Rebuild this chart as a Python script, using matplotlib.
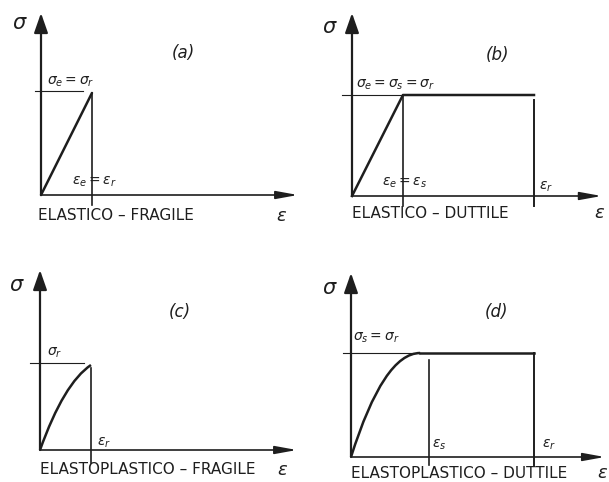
import numpy as np
import matplotlib.pyplot as plt
from matplotlib.path import Path
from matplotlib.patches import PathPatch

W, H = 609, 482
SX, SY = 52.0, 100.0   # pixels per unit of strain / stress
INK = '#1e1e1e'

# (a) elastico-fragile
eps_a = [0.0, 0.98]
sig_a = [0.0, 1.02]
# (b) elastico-duttile
eps_b = [0.0, 0.98, 3.50]
sig_b = [0.0, 1.01, 1.01]
# (c) elastoplastico-fragile, quadratic curve control points
eps_c = [0.0, 0.46, 0.98]
sig_c = [0.0, 0.67, 0.85]
# (d) elastoplastico-duttile, curve then plateau
eps_d = [0.0, 0.63, 1.33, 3.52]
sig_d = [0.0, 1.04, 1.04, 1.04]
eps_s_d = 1.50

titles = ['(a)', '(b)', '(c)', '(d)']
names = ['ELASTICO \u2013 FRAGILE', 'ELASTICO \u2013 DUTTILE',
         'ELASTOPLASTICO \u2013 FRAGILE', 'ELASTOPLASTICO \u2013 DUTTILE']

fig = plt.figure(figsize=(W / 100, H / 100), dpi=100)
fig.patch.set_facecolor('white')


def panel(ox, oy, xlen, ylen):
    ax = fig.add_axes([(ox - 45) / W, 1 - (oy + 30) / H, 310 / W, 225 / H])
    ax.set_xlim(-45 / SX, 265 / SX)
    ax.set_ylim(-30 / SY, 195 / SY)
    ax.axis('off')
    # axes with arrows
    ax.annotate('', xy=(0, ylen), xytext=(0, 0),
                arrowprops=dict(arrowstyle='-|>,head_length=1.0,head_width=0.35',
                                lw=1.6, color=INK, mutation_scale=12,
                                shrinkA=0, shrinkB=0))
    ax.annotate('', xy=(xlen, 0), xytext=(0, 0),
                arrowprops=dict(arrowstyle='-|>,head_length=1.1,head_width=0.2',
                                lw=1.2, color=INK, mutation_scale=12,
                                shrinkA=0, shrinkB=0))
    return ax


def txt(ax, x, y, s, size=9.5, ha='left', **kw):
    ax.text(x, y, s, fontsize=size, ha=ha, va='center', color=INK, **kw)


def common(ax, i, tx, ty, lx, ly, ex, ey, sx, sy):
    txt(ax, tx, ty, titles[i], size=12, ha='center', style='italic')
    txt(ax, lx, ly, names[i], size=11)
    txt(ax, ex, ey, r'$\epsilon$', size=13, ha='center')
    txt(ax, sx, sy, r'$\sigma$', size=15, ha='center')


# (a)
ax = panel(41, 195, 4.94, 1.82)
ax.plot(eps_a, sig_a, color=INK, lw=1.8, solid_capstyle='round')
ax.plot([-0.12, 0.81], [sig_a[1] + 0.02] * 2, color=INK, lw=0.8)
ax.plot([eps_a[1]] * 2, [sig_a[1], -0.1], color=INK, lw=1.2)
txt(ax, 0.12, 1.13, r'$\sigma_e = \sigma_r$', size=10)
txt(ax, 1.02, 0.13, r'$\epsilon_e = \epsilon_r$', size=10, ha='center')
common(ax, 0, 2.73, 1.42, -0.06, -0.21, 4.63, -0.21, -0.4, 1.72)

# (b)
ax = panel(352, 196, 4.80, 1.83)
ax.plot(eps_b, sig_b, color=INK, lw=1.8)
ax.plot([-0.19, eps_b[1]], [sig_b[1]] * 2, color=INK, lw=0.8)
ax.plot([eps_b[1]] * 2, [sig_b[1], -0.1], color=INK, lw=1.2)
ax.plot([eps_b[2]] * 2, [sig_b[2] - 0.05, -0.1], color=INK, lw=1.4)
txt(ax, 0.08, 1.11, r'$\sigma_e = \sigma_s = \sigma_r$', size=10)
txt(ax, 1.02, 0.13, r'$\epsilon_e = \epsilon_s$', size=10, ha='center')
txt(ax, 3.6, 0.09, r'$\epsilon_r$', size=10)
common(ax, 1, 2.8, 1.41, 0.0, -0.17, 4.77, -0.17, -0.42, 1.69)

# (c)
ax = panel(40, 450, 4.94, 1.80)
path = Path(list(zip(eps_c, sig_c)), [Path.MOVETO, Path.CURVE3, Path.CURVE3])
ax.add_patch(PathPatch(path, fill=False, color=INK, lw=1.8))
ax.plot([-0.2, 0.85], [sig_c[2] + 0.02] * 2, color=INK, lw=0.8)
ax.plot([eps_c[2]] * 2, [sig_c[2] - 0.03, -0.13], color=INK, lw=1.2)
txt(ax, 0.13, 0.97, r'$\sigma_r$', size=10)
txt(ax, 1.1, 0.07, r'$\epsilon_r$', size=10)
common(ax, 2, 2.69, 1.38, 0.0, -0.2, 4.67, -0.2, -0.44, 1.65)

# (d)
ax = panel(351, 457, 4.88, 1.84)
path = Path(list(zip(eps_d[:3], sig_d[:3])), [Path.MOVETO, Path.CURVE3, Path.CURVE3])
ax.add_patch(PathPatch(path, fill=False, color=INK, lw=1.8))
ax.plot(eps_d[2:], sig_d[2:], color=INK, lw=1.8)
ax.plot([-0.15, eps_d[2]], [sig_d[2]] * 2, color=INK, lw=0.8)
ax.plot([eps_s_d] * 2, [sig_d[2] - 0.07, -0.08], color=INK, lw=1.2)
ax.plot([eps_d[3]] * 2, [sig_d[3], -0.08], color=INK, lw=1.4)
txt(ax, 0.04, 1.19, r'$\sigma_s = \sigma_r$', size=10)
txt(ax, 1.56, 0.12, r'$\epsilon_s$', size=10)
txt(ax, 3.67, 0.12, r'$\epsilon_r$', size=10)
common(ax, 3, 2.8, 1.45, 0.0, -0.16, 4.83, -0.16, -0.4, 1.69)

fig.savefig('out.png', dpi=100, facecolor='white')
